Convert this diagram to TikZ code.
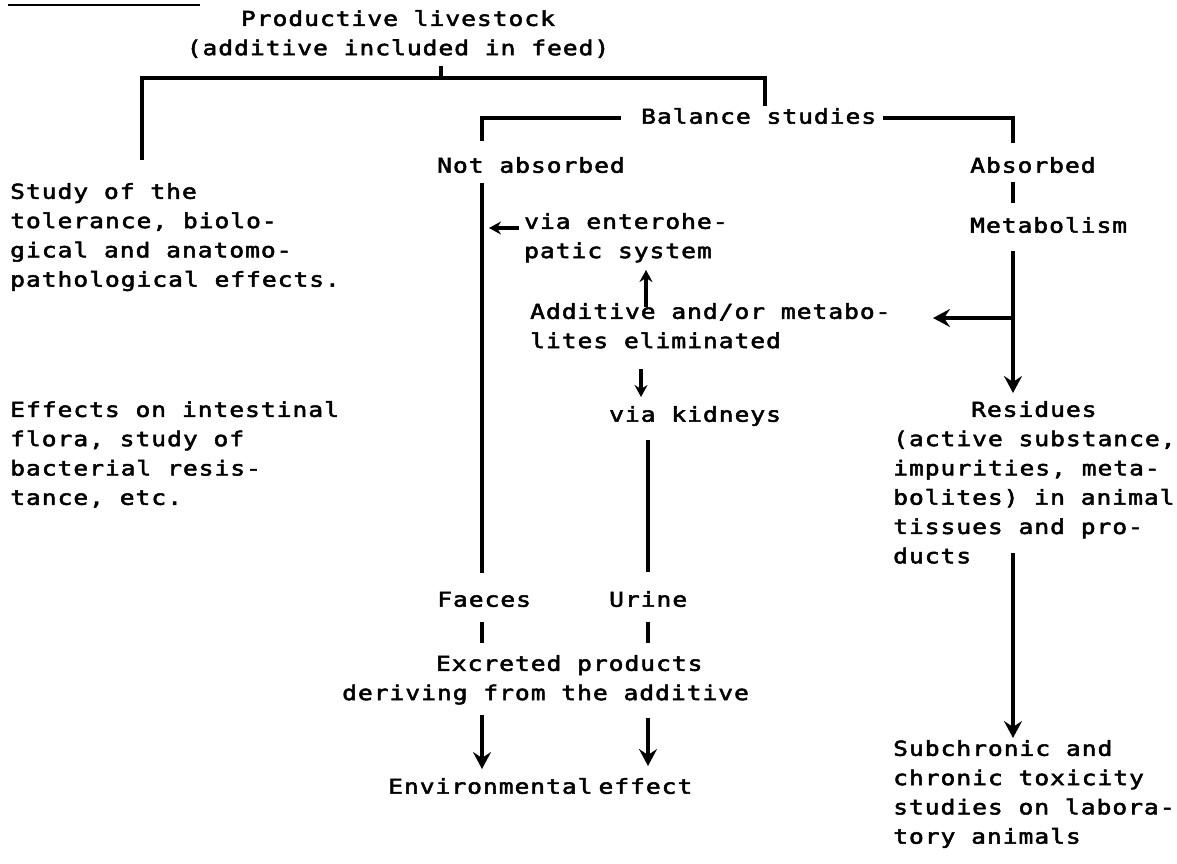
\documentclass[tikz,border=0pt]{standalone}
\usepackage{fontspec}
\usetikzlibrary{arrows.meta}
\newfontfamily\tw[FakeStretch=1.2,LetterSpace=4.8,FakeBold=2.5]{DejaVu Sans Mono}
\begin{document}
\begin{tikzpicture}[x=1pt,y=-1pt,
  txt/.style={inner sep=0pt, anchor=north west, align=left,
    font=\tw\fontsize{20.5}{29.3}\selectfont, execute at begin node=\strut},
  ln/.style={line width=3.1pt},
  arr/.style={line width=3.1pt, -{Stealth[length=17pt,width=18pt,inset=6pt]}},
  sarr/.style={line width=3.1pt, -{Stealth[length=12pt,width=13pt,inset=4pt]}},
]
\useasboundingbox (0,0) rectangle (1177,864);

% nodes
\node[txt, anchor=north, align=center] (prod) at (398,10) {Productive livestock\\(additive included in feed)};
\node[txt] (bal) at (641,103) {Balance studies};
\node[txt] (nabs) at (437,152) {Not absorbed};
\node[txt] (abs) at (970,152) {Absorbed};
\node[txt] (study) at (10,183) {Study of the\\tolerance, biolo-\\gical and anatomo-\\pathological effects.};
\node[txt] (metab) at (970,212) {Metabolism};
\node[txt] (entero) at (524,213) {via enterohe-\\patic system};
\node[txt] (addit) at (530,303) {Additive and/or metabo-\\lites eliminated};
\node[txt] (kid) at (609,401) {via kidneys};
\node[txt] (res) at (893,401) {\phantom{00000}Residues\\(active substance,\\impurities, meta-\\bolites) in animal\\tissues and pro-\\ducts};
\node[txt] (eff) at (10,401) {Effects on intestinal\\flora, study of\\bacterial resis-\\tance, etc.};
\node[txt] (fae) at (437,586) {Faeces};
\node[txt] (uri) at (609,586) {Urine};
\node[txt] (exc) at (342,655) {\phantom{000000}Excreted products\\deriving from the additive};
\node[txt] (env) at (388,773) {Environmental\hspace{6pt}effect};
\node[txt] (sub) at (893,740) {Subchronic and\\chronic toxicity\\studies on labora-\\tory animals};

% underline at top
\draw[line width=2.6pt] (8,5) coordinate (ul1) -- (200,5) coordinate (ul2);

% top bracket
\coordinate (tick) at (441,66);
\draw[ln] (tick) -- (441,78);
\draw[ln] (142,160) coordinate (studytop) -- (142,78) -- (765,78) -- (765,106) coordinate (baltop);

% balance studies bracket
\draw[ln] (621,118) -- (482,118) -- (482,141) coordinate (nabstop);
\draw[ln] (883,118) -- (1013,118) -- (1013,143) coordinate (abstop);

% absorbed branch
\draw[ln] (1013,182) -- (1013,203);
\draw[arr] (1013,251) -- (1013,393);
\draw[arr] (1013,318) -- (933,318);
\draw[arr] (1013,553) -- (1013,738);

% not absorbed branch
\draw[ln] (482,183) -- (482,573);
\draw[sarr] (519,228) -- (489,228);
\draw[sarr] (646,307) -- (646,270);
\draw[sarr] (641,369) -- (641,397);
\draw[ln] (648,440) -- (648,572);
\draw[ln] (482,622) -- (482,643);
\draw[ln] (648,622) -- (648,643);
\draw[arr] (482,715) -- (482,769);
\draw[arr] (648,718) -- (648,766);
\end{tikzpicture}
\end{document}
